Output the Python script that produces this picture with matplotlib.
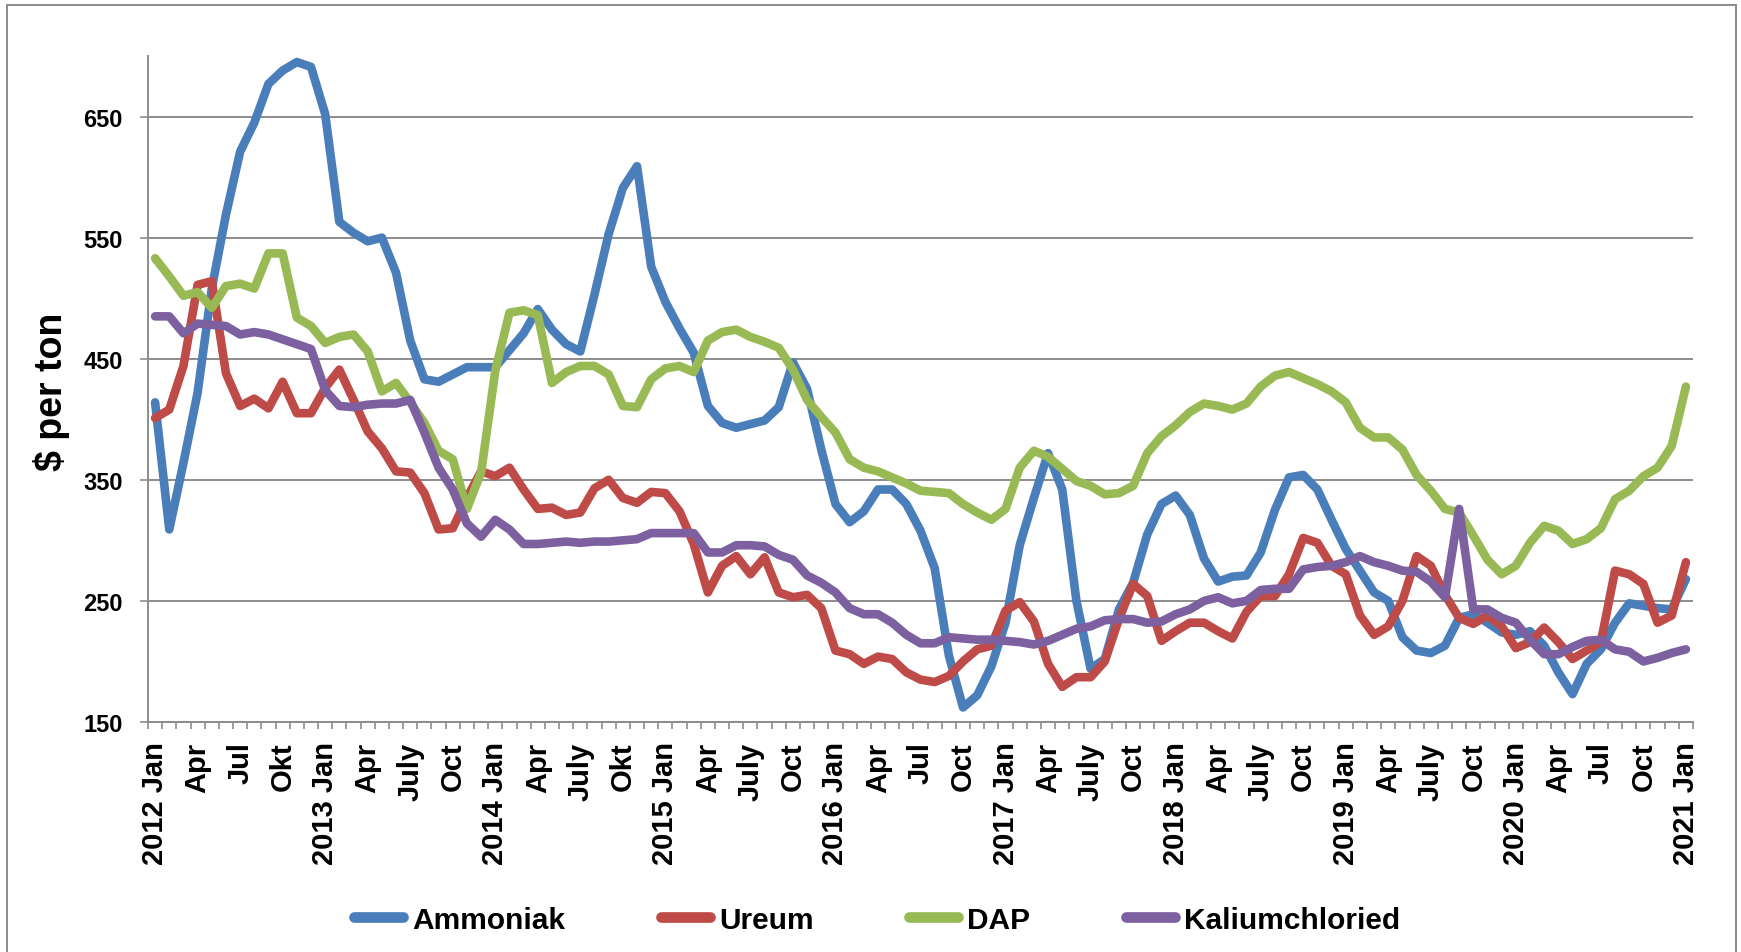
import numpy as np
import matplotlib
matplotlib.use('Agg')
import matplotlib.pyplot as plt
from matplotlib.patches import Rectangle
from matplotlib.ticker import FixedLocator, NullFormatter
from matplotlib.lines import Line2D

tick_labels = ["2012 Jan", "Apr", "Jul", "Okt", "2013 Jan", "Apr", "July", "Oct",
               "2014 Jan", "Apr", "July", "Okt", "2015 Jan", "Apr", "July", "Oct",
               "2016 Jan", "Apr", "Jul", "Oct", "2017 Jan", "Apr", "July", "Oct",
               "2018 Jan", "Apr", "July", "Oct", "2019 Jan", "Apr", "July", "Oct",
               "2020 Jan", "Apr", "Jul", "Oct", "2021 Jan"]

series_names = ["Ammoniak", "Ureum", "DAP", "Kaliumchloried"]

ammoniak = [414, 309, 364, 422, 508, 569, 621, 645, 677, 688,
            695, 691, 652, 563, 554, 547, 550, 521, 465, 433,
            431, 437, 443, 443, 443, 457, 471, 491, 474, 462,
            456, 503, 553, 591, 609, 526, 497, 475, 455, 411,
            397, 393, 396, 399, 410, 447, 425, 375, 330, 315,
            324, 342, 342, 330, 308, 277, 205, 162, 172, 196,
            232, 296, 335, 372, 342, 250, 194, 202, 243, 265,
            305, 330, 337, 321, 285, 266, 270, 271, 290, 325,
            352, 354, 342, 317, 293, 275, 257, 250, 220, 209,
            207, 213, 236, 239, 232, 224, 222, 225, 213, 191,
            173, 198, 210, 232, 248, 246, 244, 243, 268]

ureum = [401, 408, 444, 511, 514, 438, 411, 417, 409, 431,
         405, 405, 426, 441, 416, 390, 376, 357, 356, 339,
         309, 310, 335, 357, 353, 360, 342, 326, 327, 321,
         323, 343, 350, 335, 331, 340, 339, 324, 297, 257,
         279, 287, 272, 286, 257, 253, 255, 244, 209, 206,
         198, 204, 202, 191, 185, 183, 188, 200, 210, 213,
         242, 249, 233, 198, 179, 187, 187, 200, 235, 264,
         254, 217, 225, 232, 232, 225, 219, 241, 254, 254,
         272, 302, 298, 279, 272, 238, 222, 229, 250, 287,
         279, 255, 236, 231, 238, 229, 211, 216, 228, 216,
         202, 209, 216, 275, 272, 264, 232, 238, 282]

dap = [533, 518, 502, 505, 492, 510, 512, 508, 537, 537,
       484, 477, 463, 468, 470, 456, 423, 430, 414, 397,
       374, 367, 326, 356, 440, 488, 490, 486, 430, 439,
       444, 444, 437, 411, 410, 433, 442, 444, 439, 465,
       472, 474, 468, 464, 459, 441, 416, 402, 389, 367,
       360, 357, 352, 347, 341, 340, 339, 330, 323, 317,
       326, 360, 374, 369, 359, 349, 345, 338, 339, 345,
       372, 386, 395, 406, 413, 411, 408, 413, 427, 436,
       439, 434, 429, 423, 414, 393, 385, 385, 375, 354,
       341, 326, 323, 304, 284, 272, 279, 298, 312, 308,
       297, 301, 310, 334, 341, 353, 360, 378, 427]

kalium = [485, 485, 471, 479, 478, 477, 470, 472, 470, 466,
          462, 458, 424, 411, 410, 412, 413, 413, 416, 389,
          360, 342, 314, 303, 317, 309, 297, 297, 298, 299,
          298, 299, 299, 300, 301, 306, 306, 306, 306, 290,
          290, 296, 296, 295, 288, 284, 271, 265, 257, 244,
          239, 239, 232, 222, 215, 215, 220, 219, 218, 218,
          217, 216, 214, 217, 222, 227, 229, 234, 235, 235,
          232, 233, 239, 243, 250, 253, 248, 250, 259, 260,
          260, 276, 278, 279, 282, 287, 282, 279, 275, 274,
          266, 253, 326, 243, 243, 236, 232, 218, 206, 206,
          212, 217, 218, 210, 208, 200, 203, 207, 210]

colors = ["#4A7EBB", "#BE4B48", "#98B954", "#7D60A0"]
FONT = ["Liberation Sans", "DejaVu Sans"]
plt.rcParams['font.family'] = FONT
plt.rcParams['font.weight'] = 'bold'

W, H = 1741, 953
fig = plt.figure(figsize=(W / 100, H / 100), dpi=100)
fig.patch.set_facecolor('white')

# outer chart border
fig.patches.append(Rectangle((7 / W, -0.1), (1736 - 7) / W, (1 - 5.7 / H) + 0.1,
                             transform=fig.transFigure, fill=False,
                             edgecolor='#8a8a8a', lw=1.4))

ax = fig.add_axes([148 / W, 1 - 723 / H, (1693 - 148) / W, (723 - 57) / H])

x = np.arange(len(ammoniak))
lw = 6.2
for vals, c in zip([ammoniak, ureum, dap, kalium], colors):
    ax.plot(x, vals, color=c, lw=lw, solid_joinstyle='round',
            solid_capstyle='round', zorder=3)

ax.set_xlim(-0.5, len(ammoniak) - 0.5)
ax.set_ylim(150, 700)
ax.set_yticks([150, 250, 350, 450, 550, 650])
ax.yaxis.grid(True, color='#8c8c8c', lw=1.4, zorder=1)
ax.set_axisbelow(True)

ax.xaxis.set_major_locator(FixedLocator(np.arange(0, len(ammoniak), 3)))
ax.set_xticklabels(tick_labels, rotation=90, fontsize=21, fontweight='bold',
                   ha='center', va='top')
ax.xaxis.set_minor_locator(FixedLocator(np.arange(-0.5, len(ammoniak), 1)))
ax.xaxis.set_minor_formatter(NullFormatter())
ax.tick_params(axis='x', which='major', length=0, pad=14)
ax.tick_params(axis='x', which='minor', length=5, width=1.2, color='#8c8c8c',
               direction='out')
ax.tick_params(axis='y', which='major', length=5.5, width=1.2, color='#8c8c8c',
               labelsize=17, pad=12.5)
for lab in ax.get_yticklabels():
    lab.set_fontweight('bold')

for s in ['top', 'right']:
    ax.spines[s].set_visible(False)
for s in ['left', 'bottom']:
    ax.spines[s].set_color('#8c8c8c')
    ax.spines[s].set_linewidth(1.4)

ax.set_ylabel("$ per ton", fontsize=27, fontweight='bold', va='center')
ax.yaxis.set_label_coords((51.7 - 148) / (1693 - 148), (723 - 391.7) / (723 - 57))

handles = [Line2D([0], [0], color=c, lw=7.7, solid_capstyle='round') for c in colors]
fig.legend(handles, series_names, loc='center', ncol=4,
           bbox_to_anchor=(877 / W, 1 - 920.7 / H), frameon=False,
           prop={'family': FONT, 'weight': 'bold', 'size': 21.5},
           handlelength=1.65, handletextpad=0.3, columnspacing=3.2)

fig.savefig("out.png", dpi=100, facecolor='white')
